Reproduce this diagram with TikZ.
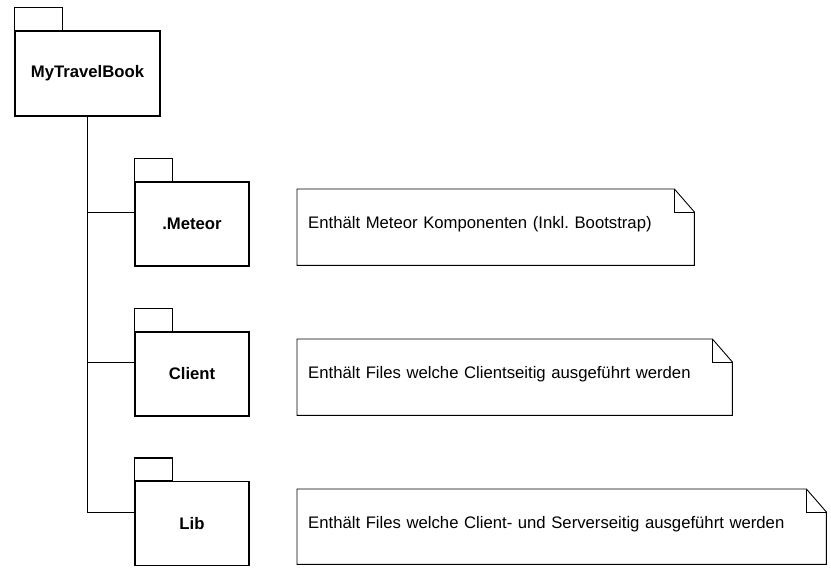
\documentclass[tikz,border=0pt]{standalone}
\usepackage{fontspec}
\setmainfont{Liberation Sans}
\begin{document}
\frenchspacing
\begin{tikzpicture}[x=1pt,y=-1pt]
      \tikzstyle{pkg} = [draw, line width=1.3pt, font=\bfseries, inner sep=0pt]
      \tikzstyle{note} = [inner xsep=11pt, inner ysep=0pt, minimum height=76pt, text depth=9.5pt, anchor=north west, align=left]
      \useasboundingbox (0,0) rectangle (831,571);
      \fontsize{16.7}{20}\selectfont

      % packages
      \node[pkg, minimum width=145pt, minimum height=85pt] (root) at (87.5,73.5) {MyTravelBook};
      \node[pkg, minimum width=114pt, minimum height=84pt] (meteor) at (192,224) {.Meteor};
      \node[pkg, minimum width=114pt, minimum height=84pt] (client) at (192,374) {Client};
      \node[pkg, minimum width=114pt, minimum height=84pt] (lib) at (192,523.5) {Lib};

      \draw[line width=1.3pt] (root.north west) rectangle ++(48,-23);
      \foreach \p in {meteor,client,lib}{
          \draw[line width=1.3pt] (\p.north west) rectangle ++(38,-23);
      }

      % notes
      \node[note, text width=375pt] (n1) at (297,189) {Enthält Meteor Komponenten (Inkl. Bootstrap)};
      \node[note, text width=413pt] (n2) at (297,339) {Enthält Files welche Clientseitig ausgeführt werden};
      \node[note, text width=507pt, minimum height=75pt] (n3) at (297,489) {Enthält Files welche Client- und Serverseitig ausgeführt werden};

      \foreach \n in {n1,n2,n3}{
          \draw[line width=0.9pt] (\n.north west) -- ([xshift=-20pt]\n.north east)
            -- ([yshift=-23pt]\n.north east) -- (\n.south east) -- (\n.south west) -- cycle;
          \draw[line width=0.8pt] ([xshift=-20pt]\n.north east) |- ([yshift=-23pt]\n.north east);
      }

      % containment
      \path[draw, line width=0.9pt]
      (root.south) |- ([yshift=12pt]meteor.west)
      (root.south) |- ([yshift=12pt]client.west)
      (root.south) |- ([yshift=11.5pt]lib.west);
    \end{tikzpicture}
\end{document}
